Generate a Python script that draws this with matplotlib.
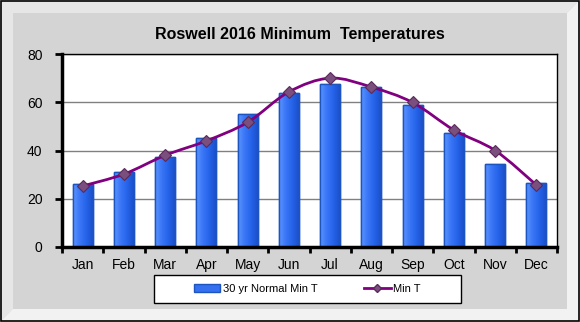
import numpy as np
import matplotlib
matplotlib.use("Agg")
import matplotlib.pyplot as plt
from matplotlib.patches import Rectangle, Polygon, PathPatch
from matplotlib.path import Path
from matplotlib.lines import Line2D
from matplotlib.colors import LinearSegmentedColormap

# data
months = ["Jan", "Feb", "Mar", "Apr", "May", "Jun", "Jul", "Aug", "Sep", "Oct", "Nov", "Dec"]
normal_min = [26.1, 31.0, 37.3, 45.1, 55.0, 63.8, 67.5, 66.3, 58.8, 47.2, 34.4, 26.4]
min_2016 = [25.3, 30.2, 38.0, 44.0, 51.7, 64.3, 70.0, 66.3, 59.9, 48.5, 40.0, 25.7]
yticks = [0, 20, 40, 60, 80]

plt.rcParams["font.family"] = ["Liberation Sans", "DejaVu Sans"]

W, H = 580, 322
fig = plt.figure(figsize=(W / 100, H / 100), dpi=100)

# beveled gray frame
def fx(px):
    return px / W

def fy(py):
    return 1 - py / H

b = 13
fig.patches.append(Rectangle((0, 0), 1, 1, transform=fig.transFigure,
                             facecolor="#d4d4d4", edgecolor="none", zorder=0))
# top / left bevel (light)
fig.patches.append(Polygon([(fx(0), fy(0)), (fx(W), fy(0)), (fx(W - b), fy(b)),
                            (fx(b), fy(b)), (fx(b), fy(H - b)), (fx(0), fy(H))],
                           closed=True, transform=fig.transFigure,
                           facecolor="#e6e6e6", edgecolor="none", zorder=0))
# bottom / right bevel (lighter)
fig.patches.append(Polygon([(fx(W), fy(0)), (fx(W), fy(H)), (fx(0), fy(H)),
                            (fx(b), fy(H - b)), (fx(W - b), fy(H - b)), (fx(W - b), fy(b))],
                           closed=True, transform=fig.transFigure,
                           facecolor="#f2f2f2", edgecolor="none", zorder=0))
fig.patches.append(Rectangle((0.001, 0.002), 0.997, 0.996, transform=fig.transFigure,
                             facecolor="none", edgecolor="black", linewidth=1.2, zorder=1))

ax = fig.add_axes([62 / W, 75 / H, 495 / W, 193 / H])
ax.set_zorder(5)
ax.set_facecolor("white")

x = np.arange(len(months))
bars = ax.bar(x, normal_min, width=0.48, color="#3470f0", edgecolor="#1d55c0",
              linewidth=1.0, zorder=2)

# horizontal gradient fill inside each bar
grad = LinearSegmentedColormap.from_list("barblue", ["#5c95ff", "#3a76f6", "#2563ea", "#1c50c8"])
for r in bars:
    x0, w, h = r.get_x(), r.get_width(), r.get_height()
    im = ax.imshow(np.linspace(0, 1, 64).reshape(1, -1), cmap=grad, aspect="auto",
                   extent=(x0, x0 + w, 0, h), zorder=2.1, interpolation="bilinear")
    im.set_clip_path(r)
    ax.add_patch(Rectangle((x0, 0), w, h, facecolor="none", edgecolor="#1d55c0",
                           linewidth=1.0, zorder=2.2))

# smoothed line (Bezier through the points, like a spreadsheet "smoothed line")
pts = np.column_stack([x, min_2016]).astype(float)
ext = np.vstack([pts[0], pts, pts[-1]])
verts = [tuple(pts[0])]
codes = [Path.MOVETO]
for i in range(len(pts) - 1):
    p0, p1, p2, p3 = ext[i], ext[i + 1], ext[i + 2], ext[i + 3]
    c1 = p1 + (p2 - p0) / 6
    c2 = p2 - (p3 - p1) / 6
    verts += [tuple(c1), tuple(c2), tuple(p2)]
    codes += [Path.CURVE4] * 3
ax.add_patch(PathPatch(Path(verts, codes), facecolor="none", edgecolor="#800080",
                       linewidth=2.0, zorder=3))
ax.plot(x, min_2016, linestyle="none", marker="D", markersize=6,
        markerfacecolor="#7b4f7d", markeredgecolor="#5a2a5a", markeredgewidth=0.8, zorder=4)

ax.set_xlim(-0.5, len(months) - 0.5)
ax.set_ylim(0, 80)
ax.set_yticks(yticks)
ax.set_yticklabels([str(v) for v in yticks], fontsize=10)
ax.set_xticks(x)
ax.set_xticklabels(months, fontsize=10)
ax.set_xticks(np.arange(-0.5, len(months)), minor=True)
ax.tick_params(axis="x", which="major", length=0, pad=8)
ax.tick_params(axis="x", which="minor", length=4, width=2, direction="out")
ax.tick_params(axis="y", length=5, width=2, direction="out", pad=9)
ax.yaxis.grid(True, color="#808080", linewidth=1.0)
ax.set_axisbelow(True)
for s in ["left", "bottom"]:
    ax.spines[s].set_linewidth(2.5)
for s in ["top", "right"]:
    ax.spines[s].set_linewidth(1.0)

fig.text(fx(300), fy(35), "Roswell 2016 Minimum  Temperatures", ha="center", va="center",
         fontsize=11.5, fontweight="bold")

# legend
fig.patches.append(Rectangle((fx(154), fy(303)), (461 - 154) / W, 28 / H,
                             transform=fig.transFigure, facecolor="white",
                             edgecolor="black", linewidth=1.0, zorder=2))
handles = [Rectangle((0, 0), 1, 1, facecolor="#3470f0", edgecolor="#1d55c0"),
           Line2D([], [], color="#800080", linewidth=2, marker="D", markersize=4,
                  markerfacecolor="#7b4f7d", markeredgecolor="#5a2a5a")]
leg = fig.legend(handles, ["30 yr Normal Min T", "Min T"], loc="center",
                 bbox_to_anchor=(fx(307), fy(289)), ncol=2, frameon=False,
                 fontsize=8, handlelength=2.4, handletextpad=0.2, columnspacing=4.2)
leg.set_zorder(3)

fig.savefig("out.png", dpi=100)
